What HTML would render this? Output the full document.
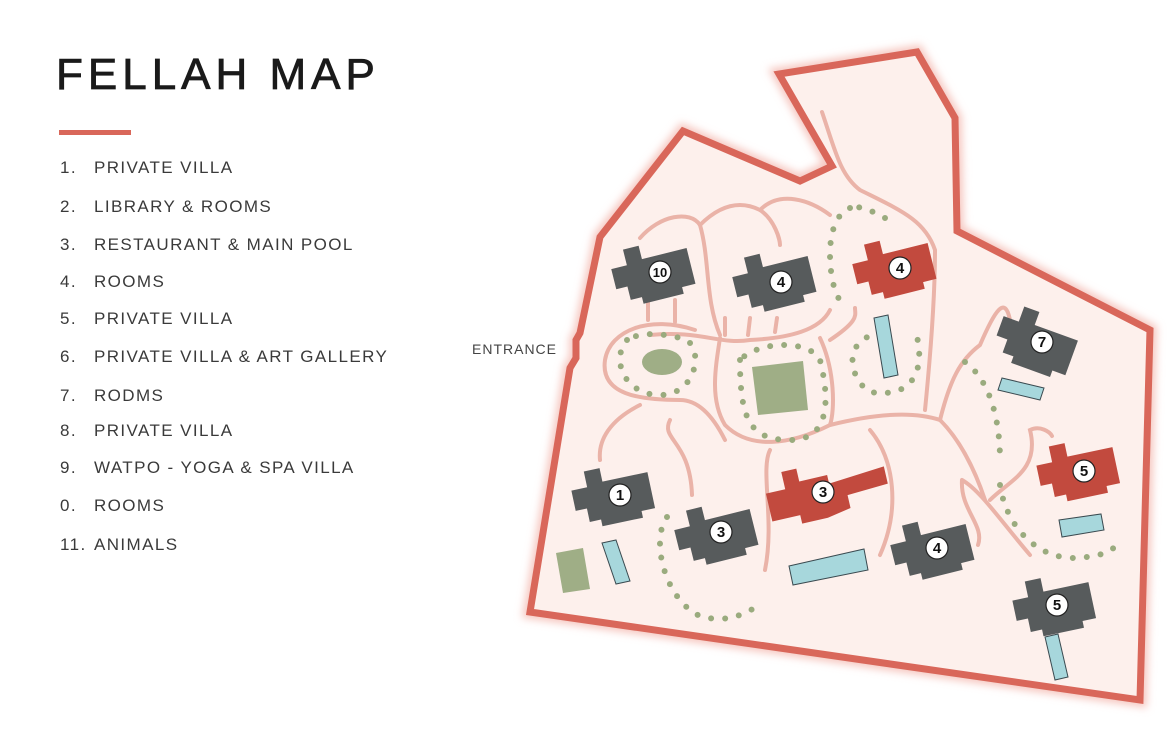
<!DOCTYPE html>
<html><head><meta charset="utf-8"><style>
body{margin:0;width:1170px;height:750px;background:#fff;overflow:hidden;position:relative;font-family:"Liberation Sans",sans-serif}
h1{position:absolute;left:56px;top:50px;margin:0;font-size:44px;font-weight:normal;letter-spacing:5px;color:#1a1a1a;-webkit-text-stroke:0.8px #1a1a1a}
.bar{position:absolute;left:59px;top:130px;width:72px;height:5px;background:#d9675a}
.it{position:absolute;left:60px;font-size:17px;letter-spacing:1.4px;color:#3a3a3a;white-space:nowrap}
.it span{display:inline-block;width:34px}
.ent{position:absolute;left:472px;top:341px;font-size:14px;letter-spacing:1px;color:#444}
svg{position:absolute;left:0;top:0}
</style></head><body>
<h1>FELLAH MAP</h1><div class="bar"></div>
<div class="it" style="top:158px"><span>1.</span>PRIVATE VILLA</div>
<div class="it" style="top:197px"><span>2.</span>LIBRARY &amp; ROOMS</div>
<div class="it" style="top:235px"><span>3.</span>RESTAURANT &amp; MAIN POOL</div>
<div class="it" style="top:272px"><span>4.</span>ROOMS</div>
<div class="it" style="top:309px"><span>5.</span>PRIVATE VILLA</div>
<div class="it" style="top:347px"><span>6.</span>PRIVATE VILLA &amp; ART GALLERY</div>
<div class="it" style="top:386px"><span>7.</span>RODMS</div>
<div class="it" style="top:421px"><span>8.</span>PRIVATE VILLA</div>
<div class="it" style="top:458px"><span>9.</span>WATPO - YOGA &amp; SPA VILLA</div>
<div class="it" style="top:496px"><span>0.</span>ROOMS</div>
<div class="it" style="top:535px"><span>11.</span>ANIMALS</div>
<div class="ent">ENTRANCE</div>
<svg width="1170" height="750" viewBox="0 0 1170 750">
<defs><filter id="g" x="-10%" y="-10%" width="120%" height="120%"><feGaussianBlur stdDeviation="4"/></filter>
<path id="bd" d="M-38,-12 L-24,-12 L-24,-26 L-10,-26 L-10,-14 L30,-14 L30,18 L18,18 L18,24 L-18,24 L-18,18 L-28,18 L-28,6 L-38,6 Z"/></defs>
<polygon points="600,237 683,131 800,181 832,166 779,74 917,52 955,118 957,231 1150,330 1140,700 530,612 570,368 576,358 576,340 580,333" fill="none" stroke="#f6c9c2" stroke-width="14" filter="url(#g)"/>
<polygon points="600,237 683,131 800,181 832,166 779,74 917,52 955,118 957,231 1150,330 1140,700 530,612 570,368 576,358 576,340 580,333" fill="#fdf0ec" stroke="#d9675a" stroke-width="7" stroke-linejoin="miter"/>
<g fill="none" stroke="#eab3a8" stroke-width="4" stroke-linecap="round">
<path d="M640,238 C660,215 690,210 700,225 C710,260 705,300 720,335"/>
<path d="M700,225 C720,205 740,200 760,210 C775,220 780,240 780,245"/>
<path d="M760,210 C780,190 810,200 830,215"/>
<path d="M822,112 C835,150 840,175 860,190 C900,210 925,220 935,250 C935,300 930,360 925,410"/>
<path d="M695,330 C650,315 610,330 605,360 C600,395 640,400 680,400 C700,400 715,420 725,440"/>
<path d="M650,335 C700,330 720,345 750,340 C790,338 820,330 830,310 M830,340 C860,320 855,315 855,308"/>
<path d="M648,296 L648,320 M675,300 L675,322 M725,318 L725,335 M750,318 L748,335 M777,318 L775,332"/>
<path d="M720,338 C715,370 710,400 725,425 C750,450 790,445 830,425 C870,415 910,410 940,420 C960,440 975,470 985,500"/>
<path d="M820,338 C835,370 835,410 830,425"/>
<path d="M940,420 C950,380 960,360 980,345 C995,310 1005,295 1010,320"/>
<path d="M640,405 C610,420 598,440 600,460"/>
<path d="M670,420 C660,440 690,440 692,495"/>
<path d="M770,450 C760,470 775,520 765,570"/>
<path d="M870,430 C895,460 900,510 880,555"/>
<path d="M990,500 C1010,480 1040,470 1030,430 C1040,425 1050,432 1052,436"/>
<path d="M962,480 C960,510 985,525 978,545 M962,480 C980,490 1000,520 1030,555"/>
</g>
<g fill="none" stroke="#9aab7e" stroke-width="6" stroke-linecap="round" stroke-dasharray="0 14">
<path d="M627,340 C610,360 625,395 660,395 C700,395 705,340 680,338 C660,333 640,332 627,340"/>
<path d="M740,360 C740,420 750,440 790,440 C830,440 830,400 820,360 C810,340 760,340 740,360"/>
<path d="M850,208 C820,220 830,290 840,300 M885,218 C870,210 860,205 850,208"/>
<path d="M880,333 C840,340 850,380 870,392 C920,400 925,360 915,330"/>
<path d="M965,362 C990,380 1000,420 1000,460"/>
<path d="M667,517 C650,540 665,600 700,616 C730,625 750,610 758,606"/>
<path d="M1000,485 C1005,520 1030,555 1070,558 C1100,558 1115,550 1115,545"/>
</g>
<g fill="#9fae86"><ellipse cx="662" cy="362" rx="20" ry="13"/>
<polygon points="752,367 803,361 808,410 758,415"/><polygon points="556,553 583,548 590,589 563,593"/></g>
<g fill="#a7d7dc" stroke="#3a4a50" stroke-width="1">
<polygon points="874,318 888,315 898,375 884,378"/><polygon points="1002,378 1044,388 1040,400 998,390"/>
<polygon points="789,566 864,549 868,570 793,585"/><polygon points="1059,520 1101,514 1104,530 1062,537"/>
<polygon points="1045,637 1058,634 1068,677 1055,680"/><polygon points="602,543 616,540 630,581 616,584"/>
</g>
<g fill="#575b5c">
<use href="#bd" transform="translate(657,272) rotate(-14) scale(1.15)"/>
<use href="#bd" transform="translate(778,280) rotate(-14) scale(1.15)"/>
<use href="#bd" fill="#c24a3e" transform="translate(898,267) rotate(-14) scale(1.15)"/>
<use href="#bd" transform="translate(1040,344) rotate(20) scale(1.15)"/>
<use href="#bd" transform="translate(617,495) rotate(-12) scale(1.15)"/>
<use href="#bd" transform="translate(720,533) rotate(-14) scale(1.15)"/>
<use href="#bd" transform="translate(936,548) rotate(-14) scale(1.15)"/>
<use href="#bd" fill="#c24a3e" transform="translate(1082,470) rotate(-12) scale(1.15)"/>
<use href="#bd" transform="translate(1058,605) rotate(-12) scale(1.15)"/>
</g>
<g transform="translate(822,492) rotate(-13) scale(1.1)" fill="#c24a3e"><path d="M-50,-10 L-32,-10 L-32,-26 L-18,-26 L-18,-14 L8,-14 L8,-6 L60,-10 L60,6 L22,8 L22,20 L0,24 L-24,24 L-24,16 L-50,16 Z"/></g>
<g fill="#fff" stroke="#222" stroke-width="1.2">
<circle cx="660" cy="272" r="11"/><circle cx="781" cy="282" r="11"/><circle cx="900" cy="268" r="11"/><circle cx="1042" cy="342" r="11"/><circle cx="620" cy="495" r="11"/><circle cx="721" cy="532" r="11"/><circle cx="823" cy="492" r="11"/><circle cx="937" cy="548" r="11"/><circle cx="1084" cy="471" r="11"/><circle cx="1057" cy="605" r="11"/>
</g>
<g font-family="Liberation Sans,sans-serif" font-size="15" fill="#111" text-anchor="middle" font-weight="bold">
<text x="660" y="277" font-size="13">10</text><text x="781" y="287">4</text><text x="900" y="273">4</text><text x="1042" y="347">7</text><text x="620" y="500">1</text><text x="721" y="537">3</text><text x="823" y="497">3</text><text x="937" y="553">4</text><text x="1084" y="476">5</text><text x="1057" y="610">5</text>
</g>
</svg>
</body></html>
